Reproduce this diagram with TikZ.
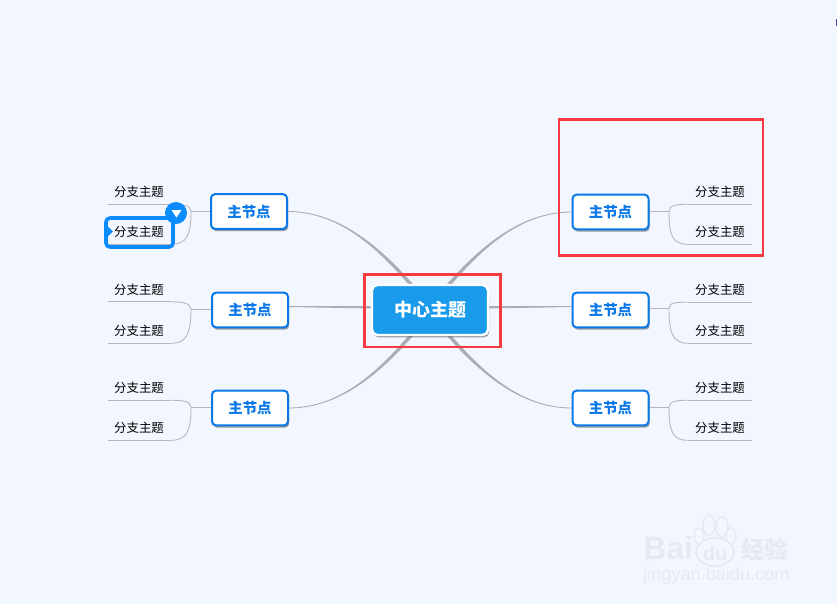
\documentclass[tikz,border=0pt]{standalone}
\usepackage{fontspec}
\setmainfont{Noto Sans CJK SC}
\newfontfamily\wmfont{Liberation Sans}
\usetikzlibrary{shadows}
\definecolor{pagebg}{HTML}{F2F6FF}
\definecolor{mainblue}{HTML}{0A78E6}
\definecolor{centerblue}{HTML}{1A9AEB}
\definecolor{selblue}{HTML}{0A8CFF}
\definecolor{markred}{HTML}{F53B40}
\definecolor{trunkgray}{HTML}{ABADB3}
\definecolor{twiggray}{HTML}{B4B6BC}
\definecolor{wmgray}{HTML}{E6E9F2}
\tikzset{
    x=0.75pt, y=-0.75pt,
    mainnode/.style={draw=mainblue, line width=1.5pt, fill=white, rounded corners=3pt, minimum width=57pt, minimum height=26pt, inner sep=0pt, text=mainblue, font=\fontsize{10.8}{12}\selectfont\bfseries, drop shadow={shadow xshift=0.9pt, shadow yshift=-1.7pt, fill=black!75, opacity=0.5}},
    centernode/.style={draw=white, line width=1.8pt, fill=centerblue, rounded corners=4pt, minimum width=87pt, minimum height=37.5pt, inner sep=0pt, text=white, font=\fontsize{13.5}{15}\selectfont\bfseries, drop shadow={shadow xshift=0.9pt, shadow yshift=-1.8pt, fill=black!75, opacity=0.5}},
    subnode/.style={minimum width=48pt, minimum height=18pt, inner sep=0pt, font=\fontsize{9.3}{11}\selectfont},
    trunk/.style={draw=trunkgray, fill=trunkgray, line width=0.6pt},
    twig/.style={draw=twiggray, line width=0.65pt},
    redbox/.style={draw=markred, line width=2.2pt},
    wm/.style={text=wmgray, inner sep=0pt},
}
\begin{document}
\begin{tikzpicture}
    \fill[pagebg] (0,0) rectangle (837,604);
    \useasboundingbox (0,0) rectangle (837,604);
    \fill[blue!55!black, opacity=0.7] (836,19) rectangle (837,26);

    \coordinate (hub) at (430,310);
    \node[mainnode] (ml1) at (249,211.5) {主节点};
    \node[mainnode] (ml2) at (250,310) {主节点};
    \node[mainnode] (ml3) at (250,408) {主节点};
    \node[mainnode] (mr1) at (610.5,212) {主节点};
    \node[mainnode] (mr2) at (610.5,310) {主节点};
    \node[mainnode] (mr3) at (610.5,408) {主节点};

    \foreach \m/\an/\sx/\sy in {ml1/east/1/-1, ml3/east/1/1, mr1/west/-1/-1, mr3/west/-1/1}
        \draw[trunk] (\m.\an) .. controls +(\sx*60,0) and +(-\sx*38,\sy*48) .. (hub) -- ++(\sx*4,0) .. controls +(-\sx*38,\sy*48) and +(\sx*60,0) .. (\m.\an) -- cycle;
    \draw[trunk] (ml2.5) -- (hub |- ml2.5) -- ++(0,2.5) -- cycle;
    \draw[trunk] (mr2.175) -- (hub |- mr2.175) -- ++(0,2.5) -- cycle;

    \node[centernode] (ctr) at (hub) {中心主题};

    \foreach \nm/\ya/\yb/\yj in {1/192/232/211, 2/289.5/331/309, 3/388/428/407} {
        \coordinate (jl\nm) at (191,\yj);
        \node[subnode] (la\nm) at (139,\ya) {分支主题};
        \node[subnode] (lb\nm) at (139,\yb) {分支主题};
        \draw[twig] (ml\nm.west |- jl\nm) -- (jl\nm);
        \draw[twig] (la\nm.south east) -- ++(-63,0);
        \draw[twig] (lb\nm.south east) -- ++(-63,0);
        \draw[twig] (jl\nm) .. controls +(0,-6) and +(10,0) .. (la\nm.south east);
        \draw[twig] (jl\nm) .. controls +(0,25) and +(15,0) .. (lb\nm.south east);
    }
    \foreach \nm/\ya/\yb/\yj in {1/192/232/211, 2/290/331/308, 3/388/428/407} {
        \coordinate (jr\nm) at (669,\yj);
        \node[subnode] (ra\nm) at (720,\ya) {分支主题};
        \node[subnode] (rb\nm) at (720,\yb) {分支主题};
        \draw[twig] (mr\nm.east |- jr\nm) -- (jr\nm);
        \draw[twig] (ra\nm.south west) -- (ra\nm.south east);
        \draw[twig] (rb\nm.south west) -- (rb\nm.south east);
        \draw[twig] (jr\nm) .. controls +(0,-6) and +(-10,0) .. (ra\nm.south west);
        \draw[twig] (jr\nm) .. controls +(0,25) and +(-15,0) .. (rb\nm.south west);
    }

    \draw[selblue, line width=2.7pt, rounded corners=3pt] (lb1.center) ++(-33,-14) rectangle ++(67,29);
    \fill[selblue] (104,223) -- (113,231.5) -- (104,240) -- cycle;
    \node[circle, fill=selblue, minimum size=16.5pt, inner sep=0pt] (fold) at (176,213) {};
    \fill[white] (171.5,210) -- (181.5,210) -- (176.5,217.5) -- cycle;

    \draw[redbox] (559,119.5) rectangle (763,255.5);
    \draw[redbox] (364.5,274.5) rectangle (500.5,347);

    \node[wm, font=\wmfont\fontsize{24}{24}\selectfont\bfseries, anchor=west] (wmbai) at (643,548) {Bai};
    \draw[wmgray, line width=1.4pt, fill=pagebg] (715,552) ellipse (19 and 14);
    \node[wm, font=\wmfont\fontsize{15}{15}\selectfont\bfseries] (wmdu) at (715,553) {du};
    \foreach \px/\py/\rx/\ry in {709/525/6/10, 722/527/6/10, 699/536/5/8, 731/536/5/8}
        \draw[wmgray, line width=1pt, fill=pagebg] (\px,\py) ellipse ({\rx} and {\ry});
    \node[wm, font=\fontsize{17.5}{18}\selectfont\bfseries, anchor=west] (wmjy) at (741,549) {经验};
    \node[wm, font=\wmfont\fontsize{13.6}{14}\selectfont, anchor=west] (wmurl) at (643,576) {jingyan.baidu.com};
\end{tikzpicture}
\end{document}
